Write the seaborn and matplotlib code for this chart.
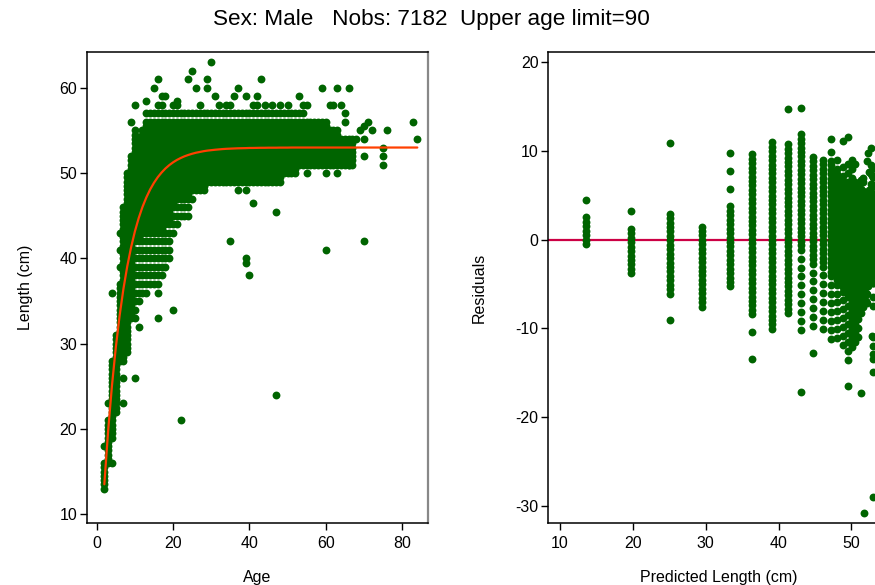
import numpy as np
import pandas as pd
import matplotlib
matplotlib.use("Agg")
import matplotlib.pyplot as plt
import seaborn as sns

# ---------------- data ----------------
# integer ages with a continuous band of observed lengths (cm)
BAND_AGE = list(range(2, 69))
BAND_LO = [13, 16, 19, 22, 28, 28, 29, 33, 33, 35, 36, 36, 37, 37, 36, 38, 39, 41, 43, 44,
           45, 45, 45, 47, 48, 48, 48,
           49, 49, 49, 49, 49, 49, 49, 49, 49, 49, 49, 49, 49, 49, 49, 49, 49, 49, 49, 49,
           50, 50, 50, 50,
           51, 51, 51, 51, 51, 51, 51, 51, 51, 51, 51, 51, 51, 51, 51,
           54]
CORE_LO = [13, 16, 19, 22, 28, 28, 29, 33, 42, 42, 43, 43, 43, 43, 43, 43, 44, 44, 46, 47,
           47, 47, 47, 48, 48, 48, 48,
           49, 49, 49, 49, 49, 49, 49, 49, 49, 49, 49, 49, 49, 49, 49, 49, 49, 49, 49, 49,
           50, 50, 50, 50,
           51, 51, 51, 51, 51, 51, 51, 51, 51, 51, 51, 51, 51, 51, 51,
           54]
CORE_HI = [16, 21, 28, 31, 37, 46, 50, 52, 55, 54, 55,
           56, 56, 56, 56, 56, 56, 56, 56, 56, 56, 56, 56, 56, 56, 56, 56, 56, 56, 56, 56, 56,
           56, 56, 56, 56, 56, 56, 56, 56, 56, 56, 56, 56, 56, 56, 56, 56, 56, 56, 56, 56, 56,
           56, 56, 56, 56, 56, 56,
           55, 55, 55,
           54, 54, 54, 54,
           54]
BAND_HI = [16, 21, 28, 31, 37, 46, 50, 52, 55, 54, 55,
           57, 57, 57, 57, 57, 57, 57, 57, 57, 57, 57, 57, 57, 57, 57, 57, 57, 57, 57, 57, 57,
           57, 57, 57, 57, 57, 57, 57, 57, 57, 57, 57, 57, 57, 57, 57, 57, 57, 57, 57, 57, 57,
           56, 56, 56, 56, 56, 56,
           55, 55, 55,
           54, 54, 54, 54,
           54]

# isolated observations (age, length)
EXTRA_AGE = [2, 3, 4, 4, 6, 6, 6, 7, 7, 9, 10, 10, 11, 13, 15, 16, 16, 16, 17, 17, 18, 19,
             20, 20, 21, 21, 22, 24, 25, 26, 27, 29, 29, 30, 31, 32, 34, 35, 35, 36, 37, 37,
             39, 39, 39, 39, 40, 41, 41, 42, 42, 43, 44, 46, 47, 47, 48, 50, 53, 54, 55, 55,
             59, 60, 60, 61, 62, 63, 63, 64, 65, 65, 65, 66, 66, 69, 70, 70, 70, 70, 71, 72,
             75, 75, 75, 76, 83, 84]
EXTRA_LEN = [18, 23, 16, 36, 39, 41, 43, 26, 23, 56, 58, 26, 32, 58.5, 60, 58, 61, 33, 58, 59,
             59, 40, 58, 34, 58, 58.5, 21, 61, 62, 60, 58, 60, 61, 63, 59, 58, 58, 58, 42, 59,
             60, 48, 59, 48, 40, 39.5, 38, 58, 46.5, 59, 58, 61, 58, 58, 45.5, 24, 58, 58, 59,
             58, 58, 50, 60, 50, 41, 58, 58, 60, 50, 58, 57, 56, 52, 60, 51, 55, 55.5, 54, 52,
             42, 56, 55, 53, 52, 51, 55, 56, 54]

# fitted growth curve: predicted length at each age
CURVE_AGE = list(range(2, 85))
CURVE_LEN = [13.52, 19.81, 25.09, 29.54, 33.28, 36.42, 39.06, 41.28, 43.15, 44.72,
             46.04, 47.14, 48.08, 48.86, 49.52, 50.07, 50.54, 50.93, 51.26, 51.54,
             51.77, 51.97, 52.13, 52.27, 52.39, 52.48, 52.57, 52.64, 52.69, 52.74,
             52.78, 52.82, 52.85, 52.87, 52.89, 52.91, 52.92, 52.93, 52.95, 52.95,
             52.96, 52.97, 52.97, 52.98, 52.98, 52.98, 52.99, 52.99, 52.99, 53.0,
             53.0, 53.0, 53.0, 53.0, 53.0, 53.0, 53.0, 53.0, 53.0, 53.0,
             53.0, 53.0, 53.0, 53.0, 53.0, 53.0, 53.0, 53.0, 53.0, 53.0,
             53.0, 53.0, 53.0, 53.0, 53.0, 53.0, 53.0, 53.0, 53.0, 53.0,
             53.0, 53.0, 53.0]

TITLE = "Sex: Male   Nobs: 7182  Upper age limit=90"

# ---------------- build observation table ----------------
rows = []
for a, lo, clo, chi, hi in zip(BAND_AGE, BAND_LO, CORE_LO, CORE_HI, BAND_HI):
    vals = set(np.arange(lo, hi + 0.01, 1.0).tolist()) | set(np.arange(clo, chi + 0.01, 0.5).tolist())
    for v in sorted(vals):
        rows.append((a, v))
for a, v in zip(EXTRA_AGE, EXTRA_LEN):
    rows.append((a, v))
df = pd.DataFrame(rows, columns=["age", "length"])
pred_map = dict(zip(CURVE_AGE, CURVE_LEN))
df["pred"] = df["age"].map(pred_map)
df["resid"] = df["length"] - df["pred"]

# ---------------- plotting ----------------
sns.set_style("white")
plt.rcParams["font.family"] = ["Liberation Sans", "DejaVu Sans"]
plt.rcParams["axes.unicode_minus"] = False
plt.rcParams["text.color"] = "black"
plt.rcParams["axes.labelcolor"] = "black"
plt.rcParams["xtick.color"] = "black"
plt.rcParams["ytick.color"] = "black"

GREEN = "#006400"
fig = plt.figure(figsize=(8.75, 5.85), dpi=100)
ax1 = fig.add_axes([87 / 875, 1 - 523 / 585, 341 / 875, 471 / 585])
ax2 = fig.add_axes([548.3 / 875, 1 - 523 / 585, 341 / 875, 471 / 585])

sns.scatterplot(data=df, x="age", y="length", ax=ax1, color=GREEN, s=32,
                linewidth=0, marker="o", zorder=2, legend=False)
sns.lineplot(x=CURVE_AGE, y=CURVE_LEN, ax=ax1, color="#ff4000", lw=1.6, zorder=3)

ax2.axhline(0, color="#cc0044", lw=1.6, zorder=1)
sns.scatterplot(data=df, x="pred", y="resid", ax=ax2, color=GREEN, s=32,
                linewidth=0, marker="o", zorder=2, legend=False)

ax1.set_xlim(-2.54, 86.8)
ax1.set_ylim(8.98, 64.2)
ax1.set_xticks([0, 20, 40, 60, 80])
ax1.set_yticks([10, 20, 30, 40, 50, 60])
ax2.set_xlim(8.4, 55.2)
ax2.set_ylim(-31.9, 21.1)
ax2.set_xticks([10, 20, 30, 40, 50])
ax2.set_yticks([-30, -20, -10, 0, 10, 20])

for ax in (ax1, ax2):
    ax.tick_params(axis="both", which="major", direction="out", length=5, width=1,
                   labelsize=11.5, pad=2, bottom=True, left=True, colors="black")
    ax.tick_params(axis="x", pad=4)
    for side in ("left", "bottom", "top"):
        ax.spines[side].set_color("black")
        ax.spines[side].set_linewidth(1.1)
    ax.spines["right"].set_color("#888888")
    ax.spines["right"].set_linewidth(1.6)

ax1.set_xlabel("Age", fontsize=11.5, labelpad=14)
ax1.set_ylabel("Length (cm)", fontsize=11.5, labelpad=19)
ax2.set_xlabel("Predicted Length (cm)", fontsize=11.5, labelpad=14)
ax2.set_ylabel("Residuals", fontsize=11.5, labelpad=21)

fig.text(0.4926, 0.966, TITLE, ha="center", va="center", fontsize=16.2)

fig.savefig("out.png", dpi=100)
